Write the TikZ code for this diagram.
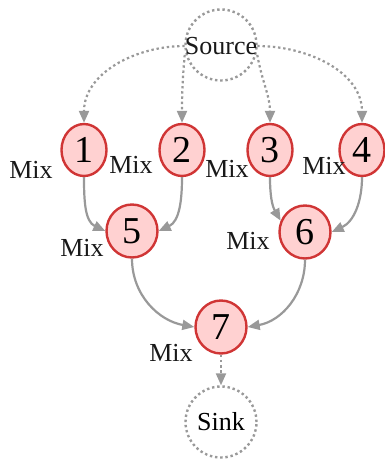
\documentclass[tikz,border=0pt]{standalone}
\usepackage{fontspec}
\setmainfont{Liberation Serif}
\usetikzlibrary{arrows.meta,shapes.geometric}
\definecolor{edgegray}{HTML}{999999}
\definecolor{nodefill}{HTML}{FFD1D1}
\definecolor{noderim}{HTML}{D03535}
\begin{document}
\begin{tikzpicture}[x=1pt,y=-1pt,
  opnode/.style={ellipse,draw=noderim,fill=nodefill,line width=2.4pt,inner sep=0pt,
     font=\fontsize{38}{40}\selectfont},
  topnode/.style={opnode,minimum width=45pt,minimum height=52pt},
  midnode/.style={opnode,minimum width=51pt,minimum height=53pt},
  endnode/.style={circle,draw=edgegray,line width=2.4pt,dash pattern=on 2.4pt off 2.8pt,
     minimum size=71pt,inner sep=0pt,font=\fontsize{26}{28}\selectfont},
  mixlabel/.style={inner sep=0pt,font=\fontsize{26}{28}\selectfont,text=black!90},
  flow/.style={draw=edgegray,line width=2.2pt,-{Stealth[length=12pt,width=10pt,inset=0pt]}},
  dotflow/.style={flow,dash pattern=on 2.4pt off 2.8pt}
]
\useasboundingbox (0,0) rectangle (385,459);
\node[endnode] (src) at (221,45) {};
\node[mixlabel] (srct) at (221,46) {Source};
\node[endnode] (sink) at (221,422) {Sink};

\node[topnode] (n1) at (84,150) {1};
\node[topnode] (n2) at (182,150) {2};
\node[topnode] (n3) at (270,150) {3};
\node[topnode] (n4) at (362,150) {4};
\node[midnode] (n5) at (132,231) {5};
\node[midnode] (n6) at (305,232) {6};
\node[midnode] (n7) at (221,327) {7};

\node[mixlabel] (m1) at (31,170) {Mix};
\node[mixlabel] (m2) at (131,165) {Mix};
\node[mixlabel] (m3) at (227,169) {Mix};
\node[mixlabel] (m4) at (324,166) {Mix};
\node[mixlabel] (m5) at (82,248) {Mix};
\node[mixlabel] (m6) at (248,241) {Mix};
\node[mixlabel] (m7) at (171,353) {Mix};

\draw[dotflow] (srct.west) to[out=180,in=90] (n1.north);
\draw[dotflow] (srct.south west) to[out=-95,in=90] (n2.north);
\draw[dotflow] (srct.south east) to[out=-80,in=90] (n3.north);
\draw[dotflow] (srct.east) to[out=0,in=90] (n4.north);

\draw[flow] (n1.south) to[out=-90,in=155] (n5.west);
\draw[flow] (n2.south) to[out=-90,in=25] (n5.east);
\draw[flow] (n3.south) to[out=-90,in=120] (n6.155);
\draw[flow] (n4.south) to[out=-90,in=25] (n6.east);
\draw[flow] (n5.south) to[out=-90,in=170] (n7.west);
\draw[flow] (n6.south) to[out=-90,in=10] (n7.east);
\draw[dotflow] (n7.south) -- (sink.north);
\end{tikzpicture}
\end{document}
